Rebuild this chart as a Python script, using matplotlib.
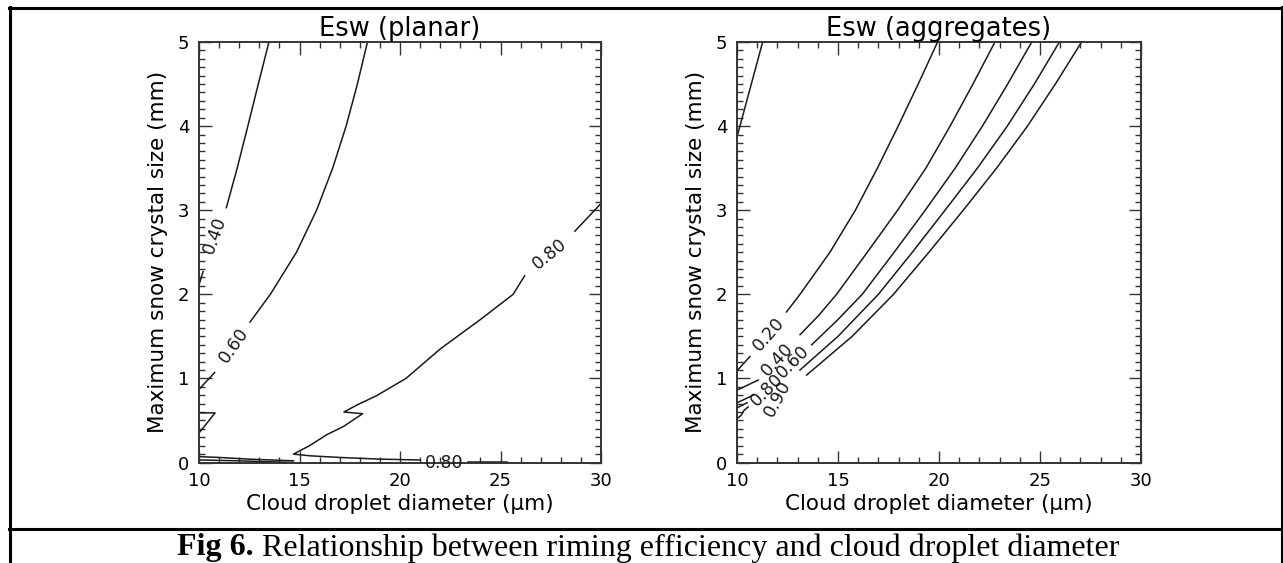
import matplotlib
matplotlib.use("Agg")
import matplotlib.pyplot as plt
from matplotlib.ticker import MultipleLocator
from matplotlib.lines import Line2D

W, H = 1283, 563

# ---- data: contour lines, (droplet diameter um, crystal size mm)
# planar
planar_40_upper = [(13.48, 5.0), (12.95, 4.5), (12.43, 4.0), (11.9, 3.5), (11.36, 3.03)]
planar_40_lower = [(10.2, 2.27), (10.0, 2.11)]
planar_60_upper = [(18.38, 5.0), (17.88, 4.5), (17.32, 4.0), (16.65, 3.5), (15.85, 3.0),
                   (14.85, 2.5), (13.55, 2.0), (12.54, 1.67)]
planar_60_lower = [(10.78, 1.07), (10.0, 0.87)]
planar_80_upper = [(30.0, 3.08), (28.7, 2.75)]
planar_80_main = [(26.2, 2.22), (25.63, 2.0), (24.0, 1.7), (22.0, 1.35), (20.3, 1.0),
                  (18.8, 0.79), (17.91, 0.69), (17.21, 0.60), (18.14, 0.58), (17.2, 0.43),
                  (16.35, 0.33), (15.5, 0.2), (14.7, 0.1), (15.5, 0.08), (17.0, 0.06),
                  (19.0, 0.04), (21.0, 0.03)]
planar_80_tail = [(23.4, 0.01), (25.3, 0.01)]
planar_triangle = [(10.0, 0.59), (10.8, 0.59), (10.0, 0.35)]
planar_bottom_a = [(10.0, 0.07), (11.0, 0.06), (12.5, 0.04), (14.7, 0.02)]
planar_bottom_b = [(10.0, 0.03), (12.0, 0.02), (14.7, 0.0)]
planar_labels = [("0.40", 10.78, 2.70, 70), ("0.60", 11.71, 1.39, 55),
                 ("0.80", 27.45, 2.48, 39), ("0.80", 22.2, 0.0, 0)]

# aggregates
agg_00 = [(11.27, 5.0), (10.0, 3.87)]
agg_20_upper = [(19.93, 5.0), (18.97, 4.5), (17.98, 4.0), (16.95, 3.5), (15.86, 3.0),
                (14.6, 2.5), (13.12, 2.0), (12.45, 1.79)]
agg_20_lower = [(10.64, 1.26), (10.0, 1.09)]
agg_40_upper = [(22.77, 5.0), (21.68, 4.5), (20.55, 4.0), (19.35, 3.5), (17.95, 3.0),
                (16.45, 2.5), (14.93, 2.0), (14.05, 1.75), (13.12, 1.52)]
agg_40_lower = [(11.05, 0.98), (10.0, 0.86)]
agg_60_upper = [(24.59, 5.0), (23.4, 4.5), (22.15, 4.0), (20.8, 3.5), (19.32, 3.0),
                (17.78, 2.5), (16.2, 2.0), (15.0, 1.7), (13.7, 1.40)]
agg_60_lower = [(10.8, 0.80), (10.0, 0.71)]
agg_80_upper = [(25.96, 5.0), (24.72, 4.5), (23.38, 4.0), (21.9, 3.5), (20.3, 3.0),
                (18.68, 2.5), (17.0, 2.0), (15.0, 1.5), (13.12, 1.10)]
agg_80_lower = [(10.5, 0.71), (10.0, 0.65)]
agg_90_upper = [(27.06, 5.0), (25.76, 4.5), (24.38, 4.0), (22.85, 3.5), (21.2, 3.0),
                (19.5, 2.5), (17.75, 2.0), (15.7, 1.5), (13.45, 1.04)]
agg_90_lower = [(10.55, 0.66), (10.35, 0.62), (10.2, 0.56), (10.0, 0.52)]
agg_labels = [("0.20", 11.55, 1.52, 49), ("0.40", 11.98, 1.22, 47),
              ("0.60", 12.75, 1.20, 45), ("0.80", 11.47, 0.86, 45),
              ("0.90", 12.03, 0.76, 62)]

x_ticks = [10, 15, 20, 25, 30]
y_ticks = [0, 1, 2, 3, 4, 5]

caption_bold = "Fig 6."
caption_rest = "Relationship between riming efficiency and cloud droplet diameter"

planar_lines = [planar_40_upper, planar_40_lower, planar_60_upper, planar_60_lower,
                planar_80_upper, planar_80_main, planar_80_tail, planar_triangle,
                planar_bottom_a, planar_bottom_b]
agg_lines = [agg_00, agg_20_upper, agg_20_lower, agg_40_upper, agg_40_lower,
             agg_60_upper, agg_60_lower, agg_80_upper, agg_80_lower,
             agg_90_upper, agg_90_lower]

FONT = "DejaVu Sans"


def px_box(x0, y0, x1, y1):
    return [x0 / W, 1 - y1 / H, (x1 - x0) / W, (y1 - y0) / H]


def draw_panel(ax, lines, labels, title):
    for seg in lines:
        xs = [p[0] for p in seg]
        ys = [p[1] for p in seg]
        ax.plot(xs, ys, color="#1a1a1a", lw=1.1, clip_on=False)
    for s, x, y, rot in labels:
        ax.text(x, y, s, rotation=rot, rotation_mode="anchor", ha="center", va="center",
                fontsize=12.5, family=FONT, color="#1a1a1a")
    ax.set_xlim(10, 30)
    ax.set_ylim(0, 5)
    ax.set_xticks(x_ticks)
    ax.set_yticks(y_ticks)
    ax.xaxis.set_minor_locator(MultipleLocator(1))
    ax.yaxis.set_minor_locator(MultipleLocator(0.1))
    ax.tick_params(which="both", direction="in", top=True, right=True,
                   color="#333333", width=1.0, labelsize=13)
    ax.tick_params(which="major", length=9, pad=7)
    ax.tick_params(which="minor", length=4)
    for sp in ax.spines.values():
        sp.set_linewidth(1.4)
        sp.set_color("#333333")
    ax.set_title(title, fontsize=18.5, family=FONT, pad=4)
    ax.set_xlabel("Cloud droplet diameter (\u03bcm)", fontsize=15.5, family=FONT, labelpad=3)
    ax.set_ylabel("Maximum snow crystal size (mm)", fontsize=15.5, family=FONT, labelpad=7)


fig = plt.figure(figsize=(W / 100, H / 100), dpi=100)

ax1 = fig.add_axes(px_box(199, 42, 601, 462.5))
draw_panel(ax1, planar_lines, planar_labels, "Esw (planar)")

ax2 = fig.add_axes(px_box(737, 42, 1141, 462.5))
draw_panel(ax2, agg_lines, agg_labels, "Esw (aggregates)")


# surrounding table frame
def hline(y, x0=0, x1=W):
    fig.add_artist(Line2D([x0 / W, x1 / W], [1 - y / H, 1 - y / H], color="black", lw=2.2,
                          transform=fig.transFigure))


def vline(x, y0=0, y1=H):
    fig.add_artist(Line2D([x / W, x / W], [1 - y0 / H, 1 - y1 / H], color="black", lw=2.2,
                          transform=fig.transFigure))


hline(7.5, 9, W)
hline(528.5, 9, W)
vline(10, 7, H)
vline(W - 1, 7, H)

# caption: bold "Fig 6." followed by regular text, centred as one line
cap_y = 1 - 548 / H
t1 = fig.text(0, cap_y, caption_bold, ha="left", va="center", fontsize=23,
              family="Liberation Serif", weight="bold")
t2 = fig.text(0, cap_y, " " + caption_rest, ha="left", va="center", fontsize=23,
              family="Liberation Serif")
r = fig.canvas.get_renderer()
w1 = t1.get_window_extent(r).width
w2 = t2.get_window_extent(r).width
x0 = 648 - (w1 + w2) / 2
t1.set_x(x0 / W)
t2.set_x((x0 + w1) / W)

fig.savefig("out.png", dpi=100)
